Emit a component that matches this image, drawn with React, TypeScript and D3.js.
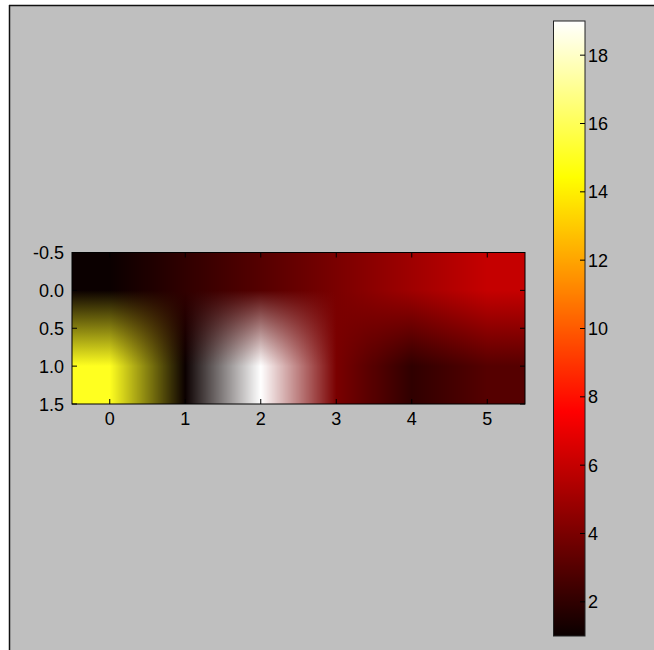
import React from "react";
import * as d3 from "d3";

// ---- data ----
const colIndex = [0, 1, 2, 3, 4, 5];
const rowIndex = [0, 1];
const row0Values = [1, 2, 3, 4, 5, 6];
const row1Values = [15, 1, 19, 4, 2, 3];
const xTickValues = [0, 1, 2, 3, 4, 5];
const yTickValues = [-0.5, 0, 0.5, 1.0, 1.5];
const colorbarTicks = [2, 4, 6, 8, 10, 12, 14, 16, 18];
const vMin = 1;
const vMax = 19;

// matplotlib "hot" colormap
function hot(t: number): string {
  t = Math.max(0, Math.min(1, t));
  const a = 0.365079, b = 0.746032;
  const r = t < a ? 0.0416 + (1 - 0.0416) * (t / a) : 1;
  const g = t < a ? 0 : t < b ? (t - a) / (b - a) : 1;
  const bl = t < b ? 0 : (t - b) / (1 - b);
  return d3.rgb(r * 255, g * 255, bl * 255).formatHex();
}

const W = 654, H = 650;
const FONT = "'Liberation Sans', Arial, sans-serif";

export default function App() {
  const x = d3.scaleLinear().domain([-0.5, 5.5]).range([72, 525]);
  const y = d3.scaleLinear().domain([-0.5, 1.5]).range([252.5, 404]);
  const norm = d3.scaleLinear().domain([vMin, vMax]).range([0, 1]);
  const cb = d3.scaleLinear().domain([vMin, vMax]).range([636, 21]);
  const rows = [row0Values, row1Values];
  const rowColors = rows.map((r) => r.map((v) => hot(norm(v))));

  // color of a row at fractional column position (RGB interpolation, edge clamped)
  const rowColorAt = (ri: number, cx: number) => {
    const c = Math.max(colIndex[0], Math.min(colIndex[colIndex.length - 1], cx));
    const i0 = Math.min(Math.floor(c), colIndex.length - 2);
    const f = c - i0;
    return d3.interpolateRgb(rowColors[ri][i0], rowColors[ri][i0 + 1])(f);
  };

  const x0 = Math.round(x(-0.5));
  const x1 = Math.round(x(5.5));
  const strips: { px: number; c0: string; c1: string }[] = [];
  for (let px = x0; px < x1; px++) {
    const cx = x.invert(px + 0.5);
    strips.push({ px, c0: rowColorAt(0, cx), c1: rowColorAt(1, cx) });
  }
  const yTop = y(-0.5), yBot = y(1.5);
  const yC0 = y(rowIndex[0]), yC1 = y(rowIndex[1]);

  const cbStops = d3.range(0, 257).map((i) => ({ off: i / 256, col: hot(i / 256) }));
  const tickLen = 5;

  return (
    <svg width={W} height={H} style={{ position: "absolute", left: 0, top: 0, background: "#fff" }}>
      <defs>
        {strips.map((s) => (
          <linearGradient key={s.px} id={`g${s.px}`} gradientUnits="userSpaceOnUse" x1={0} x2={0} y1={yC0} y2={yC1}>
            <stop offset="0" stopColor={s.c0} />
            <stop offset="1" stopColor={s.c1} />
          </linearGradient>
        ))}
        <linearGradient id="cbgrad" x1="0" x2="0" y1="1" y2="0">
          {cbStops.map((s, i) => (
            <stop key={i} offset={s.off} stopColor={s.col} />
          ))}
        </linearGradient>
      </defs>
      <rect x={9} y={5} width={W - 9} height={H - 5} fill="#bfbfbf" />
      <line x1={9} x2={W} y1={5.5} y2={5.5} stroke="#111" strokeWidth={1.5} />
      <line x1={9.5} x2={9.5} y1={5} y2={H} stroke="#111" strokeWidth={1.5} />

      {/* image */}
      <g shapeRendering="crispEdges">
        {strips.map((s) => (
          <rect key={s.px} x={s.px} y={yTop} width={1.02} height={yBot - yTop} fill={`url(#g${s.px})`} />
        ))}
      </g>
      <rect x={x0} y={yTop} width={x1 - x0} height={yBot - yTop} fill="none" stroke="#000" strokeWidth={1} />

      {/* x ticks */}
      {xTickValues.map((t) => (
        <g key={`xt${t}`}>
          <line x1={x(t)} x2={x(t)} y1={yBot} y2={yBot - tickLen} stroke="#000" />
          <line x1={x(t)} x2={x(t)} y1={yTop} y2={yTop + tickLen} stroke="#000" />
          <text x={x(t)} y={yBot + 21} textAnchor="middle" fontFamily={FONT} fontSize={18} fill="#000">
            {d3.format("d")(t)}
          </text>
        </g>
      ))}
      {/* y ticks */}
      {yTickValues.map((t) => (
        <g key={`yt${t}`}>
          <line x1={x0} x2={x0 + tickLen} y1={y(t)} y2={y(t)} stroke="#000" />
          <line x1={x1} x2={x1 - tickLen} y1={y(t)} y2={y(t)} stroke="#000" />
          <text x={64} y={y(t) + 6.5} textAnchor="end" fontFamily={FONT} fontSize={18} fill="#000">
            {d3.format(".1f")(t).replace("−", "-")}
          </text>
        </g>
      ))}

      {/* colorbar */}
      <rect x={553.5} y={cb(vMax)} width={31.5} height={cb(vMin) - cb(vMax)} fill="url(#cbgrad)" stroke="#222" strokeWidth={1} />
      {colorbarTicks.map((t) => (
        <g key={`cb${t}`}>
          <line x1={585} x2={585 - tickLen} y1={cb(t)} y2={cb(t)} stroke="#000" />
          <text x={588} y={cb(t) + 6.5} fontFamily={FONT} fontSize={18} fill="#000">
            {t}
          </text>
        </g>
      ))}
    </svg>
  );
}
